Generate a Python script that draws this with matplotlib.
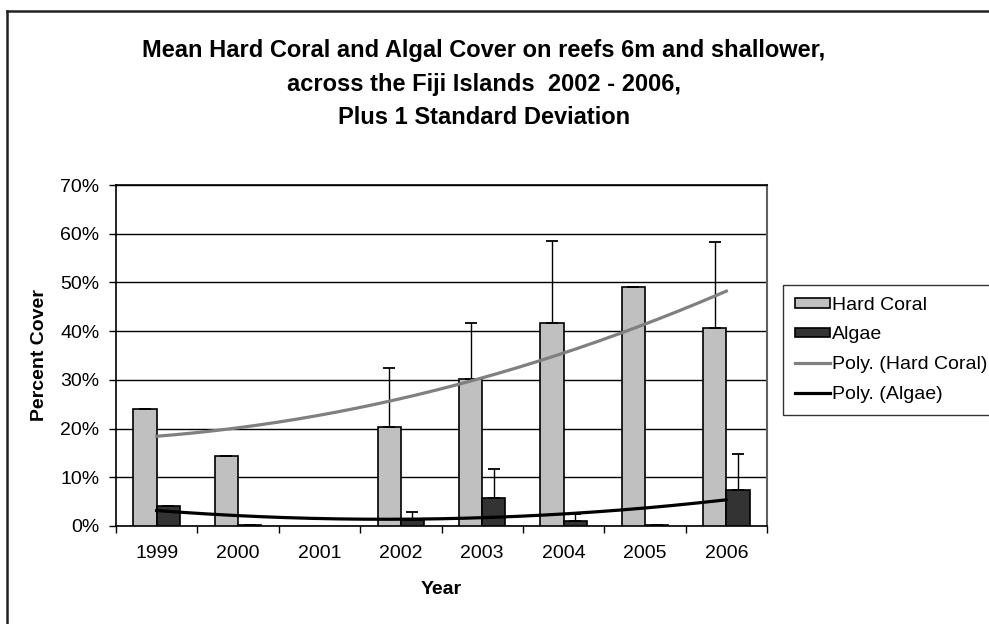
import numpy as np
import matplotlib
matplotlib.use("Agg")
import matplotlib.pyplot as plt
from matplotlib.ticker import PercentFormatter, FixedLocator
from matplotlib.lines import Line2D

plt.rcParams["font.family"] = ["Liberation Sans", "DejaVu Sans"]

years = ["1999", "2000", "2001", "2002", "2003", "2004", "2005", "2006"]
hard_coral = [24.0, 14.3, np.nan, 20.4, 30.1, 41.7, 49.1, 40.7]
hard_coral_sd = [0.0, 0.0, np.nan, 12.0, 11.6, 16.8, 0.0, 17.5]
algae = [4.1, 0.2, np.nan, 1.2, 5.75, 1.1, 0.2, 7.4]
algae_sd = [0.0, 0.0, np.nan, 1.6, 6.05, 1.3, 0.0, 7.3]

title_lines = ["Mean Hard Coral and Algal Cover on reefs 6m and shallower,",
               "across the Fiji Islands  2002 - 2006,",
               "Plus 1 Standard Deviation"]

W, H = 989, 624
fig = plt.figure(figsize=(W / 100, H / 100), dpi=100)
ax = fig.add_axes([116 / W, 1 - 526 / H, (767 - 116) / W, (526 - 185) / H])

x = np.arange(len(years))
w = 1 / 3.5
hc = np.array(hard_coral)
al = np.array(algae)

b1 = ax.bar(x - w / 2, hc, w, color="#c0c0c0", edgecolor="black", linewidth=1.2,
            label="Hard Coral", zorder=3)
b2 = ax.bar(x + w / 2, al, w, color="#333333", edgecolor="black", linewidth=1.2,
            label="Algae", zorder=3)

# plus-only error bars
ax.errorbar(x - w / 2, hc, yerr=[np.zeros(len(x)), hard_coral_sd], fmt="none",
            ecolor="black", elinewidth=1, capsize=4, capthick=1.3, zorder=4)
ax.errorbar(x + w / 2, al, yerr=[np.zeros(len(x)), algae_sd], fmt="none",
            ecolor="black", elinewidth=1, capsize=4, capthick=1.3, zorder=4)

# 2nd order polynomial trendlines (Excel style, x = 1..n)
xs = np.linspace(0, len(years) - 1, 200)
trend = []
for vals, col, lab in [(hc, "#808080", "Poly. (Hard Coral)"),
                       (al, "black", "Poly. (Algae)")]:
    ok = ~np.isnan(vals)
    coef = np.polyfit(x[ok] + 1, vals[ok], 2)
    ln, = ax.plot(xs, np.polyval(coef, xs + 1), color=col, linewidth=2.3,
                  label=lab, zorder=5)
    trend.append(ln)

ax.set_xlim(-0.5, len(years) - 0.5)
ax.set_ylim(0, 70)
ax.set_yticks(np.arange(0, 71, 10))
ax.yaxis.set_major_formatter(PercentFormatter(100, decimals=0))
ax.set_xticks(x)
ax.set_xticklabels(years)
ax.xaxis.set_minor_locator(FixedLocator(np.arange(-0.5, len(years), 1)))
ax.tick_params(axis="x", which="major", length=0, pad=14, labelsize=14)
ax.tick_params(axis="x", which="minor", length=5, width=1, direction="out")
ax.tick_params(axis="y", length=5, width=1, direction="out", pad=7, labelsize=14)
ax.grid(axis="y", color="black", linewidth=1, zorder=0)
ax.set_axisbelow(True)
ax.spines["top"].set_color("black")
ax.spines["top"].set_linewidth(1.2)
ax.spines["right"].set_color("#606060")
ax.spines["right"].set_linewidth(1.5)
for s in ["left", "bottom"]:
    ax.spines[s].set_color("black")
    ax.spines[s].set_linewidth(1.2)

for line, ypix in zip(title_lines, [50, 84, 118]):
    fig.text(484 / W, 1 - ypix / H, line, ha="center", va="center",
             fontsize=17, fontweight="bold")
fig.text(40 / W, 1 - 355 / H, "Percent Cover", rotation=90, ha="center",
         va="center", fontsize=14, fontweight="bold")
fig.text(441 / W, 1 - 590 / H, "Year", ha="center", va="center",
         fontsize=14, fontweight="bold")

leg = ax.legend([b1, b2] + trend,
                ["Hard Coral", "Algae", "Poly. (Hard Coral)", "Poly. (Algae)"],
                loc="upper left", bbox_to_anchor=(783 / W, 1 - 285 / H),
                bbox_transform=fig.transFigure, fontsize=14, frameon=True,
                fancybox=False, edgecolor="black", borderaxespad=0,
                handlelength=1.8, handleheight=0.4, labelspacing=0.66,
                handletextpad=0.12, borderpad=0.6)
leg.get_frame().set_linewidth(1)

# outer chart border (right/bottom edges fall outside the image)
fig.add_artist(Line2D([7 / W, 1.0], [1 - 11 / H, 1 - 11 / H],
                      transform=fig.transFigure, color="#222222", linewidth=1.8))
fig.add_artist(Line2D([7 / W, 7 / W], [0, 1 - 11 / H],
                      transform=fig.transFigure, color="#222222", linewidth=1.8))

fig.savefig("out.png", dpi=100)
